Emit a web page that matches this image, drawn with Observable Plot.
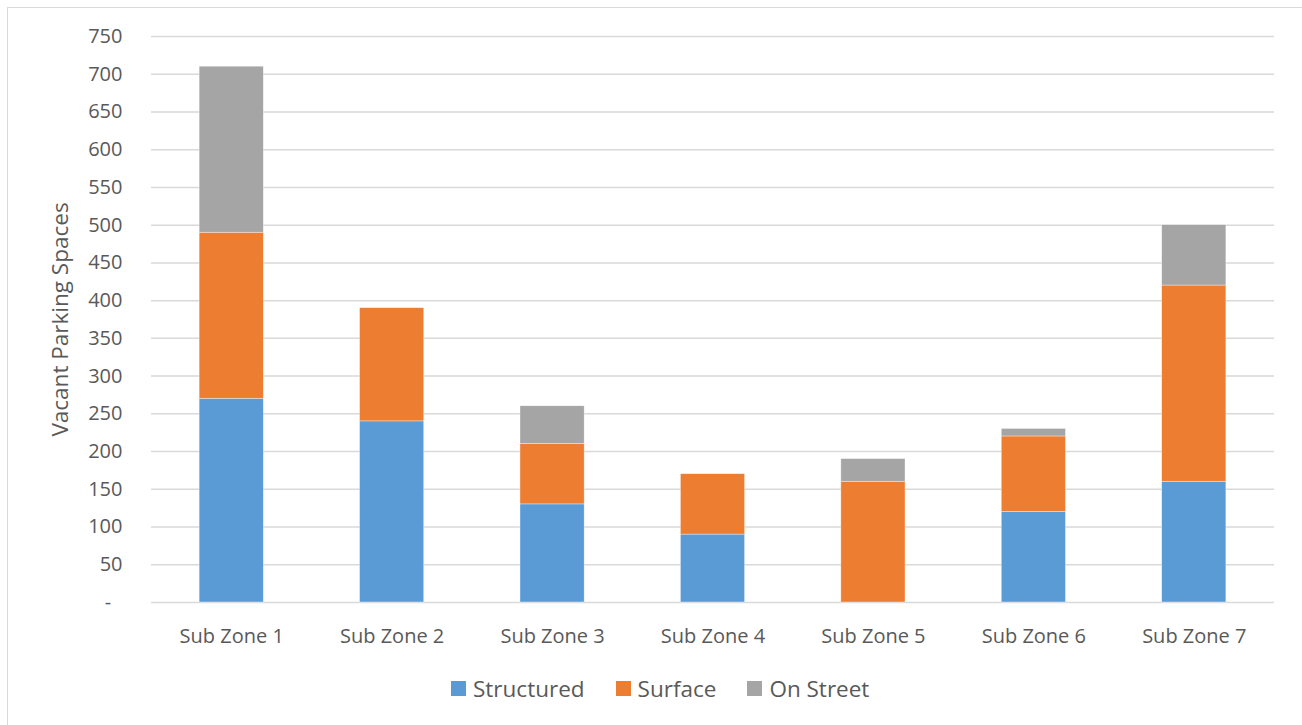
<!DOCTYPE html>
<html>
<head>
<meta charset="utf-8">
<script src="https://cdn.jsdelivr.net/npm/d3@7"></script>
<script src="https://cdn.jsdelivr.net/npm/@observablehq/plot@0.6"></script>
<style>
  html, body { margin: 0; padding: 0; background: #fff; }
  body { width: 1302px; height: 725px; position: relative; overflow: hidden; font-family: "Open Sans", sans-serif; }
  #frame { position: absolute; left: 7px; top: 7px; width: 1400px; height: 800px; border-left: 1.5px solid #d9d9d9; border-top: 1.5px solid #d9d9d9; box-sizing: border-box; }
  #chart { position: absolute; left: 0; top: 0; }
  #legend { position: absolute; left: 451px; top: 673px; display: flex; align-items: center; font-size: 22.5px; color: #595959; white-space: nowrap; }
  #legend .item { display: flex; align-items: center; margin-right: 31px; }
  #legend .sw { width: 15px; height: 15px; margin-right: 7px; }
</style>
</head>
<body>
<div id="frame"></div>
<div id="chart"></div>
<div id="legend"></div>
<script>
const zones = ["Sub Zone 1", "Sub Zone 2", "Sub Zone 3", "Sub Zone 4", "Sub Zone 5", "Sub Zone 6", "Sub Zone 7"];
const seriesNames = ["Structured", "Surface", "On Street"];
const seriesColors = ["#5B9BD5", "#ED7D31", "#A5A5A5"];
const structured = [270, 240, 130, 90, 0, 120, 160];
const surface    = [220, 150, 80, 80, 160, 100, 260];
const onStreet   = [220, 0, 50, 0, 30, 10, 80];
const yTicks = [0, 50, 100, 150, 200, 250, 300, 350, 400, 450, 500, 550, 600, 650, 700, 750];
const yLabel = "Vacant Parking Spaces";

const seriesValues = [structured, surface, onStreet];
const data = [];
zones.forEach((z, i) => {
  seriesNames.forEach((s, j) => {
    data.push({zone: z, series: s, value: seriesValues[j][i]});
  });
});

const fmt = d => d === 0 ? "-\u2007" : String(d);

const plot = Plot.plot({
  width: 1302,
  height: 660,
  marginLeft: 151,
  marginRight: 28,
  marginTop: 36,
  marginBottom: 58,
  style: {fontFamily: "Open Sans, sans-serif", fontSize: "20px", color: "#595959", background: "transparent"},
  x: {domain: zones, paddingInner: 0.6, paddingOuter: 0.3, round: false, label: null},
  y: {domain: [0, 750], label: null},
  color: {domain: seriesNames, range: seriesColors},
  marks: [
    Plot.gridY(yTicks, {stroke: "#d9d9d9", strokeOpacity: 1, strokeWidth: 1.5}),
    Plot.barY(data, {x: "zone", y: "value", fill: "series", stroke: "#ffffff", strokeWidth: 0.6, strokeOpacity: 0.6, order: seriesNames}),
    Plot.axisX({tickSize: 0, tickPadding: 26, fontSize: 20, label: null}),
    Plot.axisY(yTicks, {tickSize: 0, tickPadding: 29, fontSize: 20, tickFormat: fmt, label: null}),
    Plot.text([yLabel], {frameAnchor: "left", dx: -91, rotate: -90, textAnchor: "middle", fontSize: 22.5, fill: "#595959"})
  ]
});
document.getElementById("chart").appendChild(plot);

const legend = document.getElementById("legend");
seriesNames.forEach((s, i) => {
  const item = document.createElement("div");
  item.className = "item";
  const sw = document.createElement("div");
  sw.className = "sw";
  sw.style.background = seriesColors[i];
  const t = document.createElement("span");
  t.textContent = s;
  item.appendChild(sw);
  item.appendChild(t);
  legend.appendChild(item);
});
</script>
</body>
</html>
